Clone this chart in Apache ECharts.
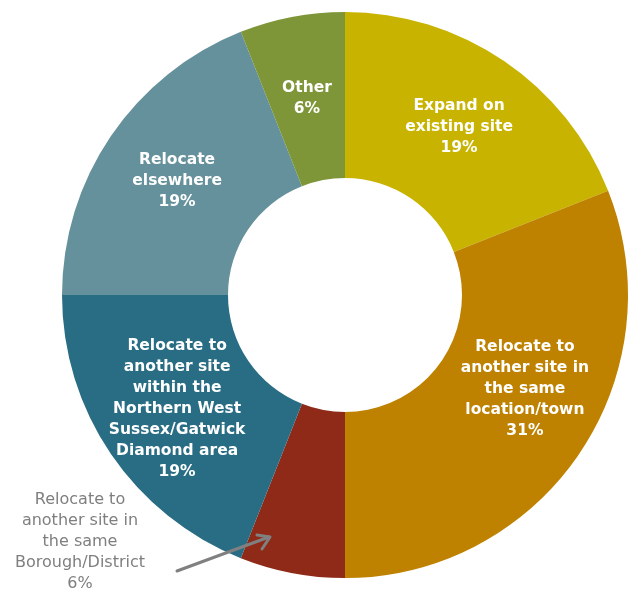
<!DOCTYPE html>
<html>
<head>
<meta charset="utf-8">
<script src="https://cdn.jsdelivr.net/npm/echarts@6/dist/echarts.min.js"></script>
<style>
html,body{margin:0;padding:0;background:#fff;}
#chart{width:642px;height:593px;}
</style>
</head>
<body>
<div id="chart"></div>
<script>
const categories = [
  "Expand on\nexisting site",
  "Relocate to\nanother site in\nthe same\nlocation/town",
  "Relocate to\nanother site in\nthe same\nBorough/District",
  "Relocate to\nanother site\nwithin the\nNorthern West\nSussex/Gatwick\nDiamond area",
  "Relocate\nelsewhere",
  "Other"
];
const values = [19, 31, 6, 19, 19, 6];
const colors = ["#C8B400", "#BE8100", "#8E2A17", "#286D84", "#65919C", "#7E9638"];

const chart = echarts.init(document.getElementById('chart'), null, {renderer: 'canvas'});
const FONT = "'DejaVu Sans', 'Liberation Sans', Arial, sans-serif";

const data = categories.map((c, i) => {
  const item = {name: c, value: values[i], itemStyle: {color: colors[i]}};
  if (i === 2) {
    item.label = {
      position: 'outside',
      color: '#7f7f7f',
      fontWeight: 'normal',
      fontSize: 16
    };
    item.labelLine = {show: false};
  }
  if (i === 1) {
    item.label = {offset: [12, -20]};
  }
  if (i === 5) {
    item.label = {offset: [0, 3]};
  }
  return item;
});

chart.setOption({
  animation: false,
  series: [{
    type: 'pie',
    center: [345, 295],
    radius: [117, 283],
    startAngle: 90,
    clockwise: true,
    silent: true,
    data: data,
    label: {
      show: true,
      position: 'inside',
      formatter: p => p.name + '\n' + p.value + '%',
      color: '#ffffff',
      fontFamily: FONT,
      fontSize: 15.5,
      fontWeight: 'bold',
      lineHeight: 21,
      align: 'center'
    },
    labelLayout: function (params) {
      if (params.dataIndex === 2) {
        return {x: 80, y: 542, align: 'center', verticalAlign: 'middle'};
      }
      return {};
    },
    itemStyle: {borderWidth: 0}
  }],
  graphic: [
    {
      type: 'line',
      z: 100,
      shape: {x1: 177, y1: 571, x2: 269, y2: 537},
      style: {stroke: '#808080', lineWidth: 3, lineCap: 'round'}
    },
    {
      type: 'polyline',
      z: 100,
      shape: {points: [[257, 535], [270, 537], [262, 549]]},
      style: {stroke: '#808080', lineWidth: 3, lineCap: 'round', lineJoin: 'round', fill: null}
    }
  ]
});
</script>
</body>
</html>
